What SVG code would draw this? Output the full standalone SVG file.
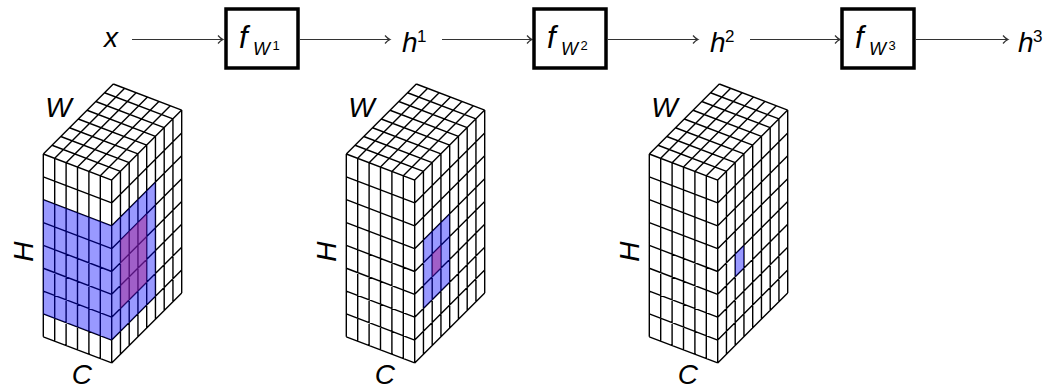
<svg xmlns="http://www.w3.org/2000/svg" xmlns:xlink="http://www.w3.org/1999/xlink" width="1050" height="390" viewBox="0 0 1050 390">
<style>
.lbl{font-family:"Liberation Sans",Arial,Helvetica,sans-serif;font-style:italic;font-size:28px;fill:#000}
.fn{font-size:31px}
.sub{font-size:18px}
.sup{font-size:13px;font-style:normal}
.sup2{font-size:17px;font-style:normal}
.box{fill:#fff;stroke:#000;stroke-width:3.5}
.arr{fill:none;stroke:#333;stroke-width:1.2;marker-end:url(#to)}
.grid{fill:none;stroke:#000;stroke-width:1.4;stroke-linejoin:round}
.face{fill:#fff;stroke:none}
.blue{fill:#0000ff;fill-opacity:0.4}
.purple{fill:#a72591;fill-opacity:0.5}
</style>
<defs>
<marker id="to" markerUnits="userSpaceOnUse" markerWidth="10" markerHeight="10" refX="0" refY="0" orient="auto" overflow="visible">
<path d="M-5,-4 C-3,-1.6 -1,-0.4 0,0 C-1,0.4 -3,1.6 -5,4" fill="none" stroke="#333" stroke-width="1.2"/>
</marker>
<g id="cube">
<polygon class="face" points="0,0 70,-70 138.4,-43.9 138.4,138.9 68.4,208.9 0,182.8"/>
<path class="grid" d="M0,0v182.8 M11.4,4.35v182.8 M22.8,8.7v182.8 M34.2,13.05v182.8 M45.6,17.4v182.8 M57,21.75v182.8 M68.4,26.1v182.8
M0,0l68.4,26.1 M0,22.85l68.4,26.1 M0,45.7l68.4,26.1 M0,68.55l68.4,26.1 M0,91.4l68.4,26.1 M0,114.25l68.4,26.1 M0,137.1l68.4,26.1 M0,159.95l68.4,26.1 M0,182.8l68.4,26.1
M77.15,17.35v182.8 M85.9,8.6v182.8 M94.65,-0.15v182.8 M103.4,-8.9v182.8 M112.15,-17.65v182.8 M120.9,-26.4v182.8 M129.65,-35.15v182.8 M138.4,-43.9v182.8
M68.4,26.1l70,-70 M68.4,48.95l70,-70 M68.4,71.8l70,-70 M68.4,94.65l70,-70 M68.4,117.5l70,-70 M68.4,140.35l70,-70 M68.4,163.2l70,-70 M68.4,186.05l70,-70 M68.4,208.9l70,-70
M8.75,-8.75l68.4,26.1 M17.5,-17.5l68.4,26.1 M26.25,-26.25l68.4,26.1 M35,-35l68.4,26.1 M43.75,-43.75l68.4,26.1 M52.5,-52.5l68.4,26.1 M61.25,-61.25l68.4,26.1 M70,-70l68.4,26.1
M0,0l70,-70 M11.4,4.35l70,-70 M22.8,8.7l70,-70 M34.2,13.05l70,-70 M45.6,17.4l70,-70 M57,21.75l70,-70"/>
</g>
</defs>
<rect width="1050" height="390" fill="#fff"/>

<g id="connectors">
<line class="arr" x1="132" y1="39.5" x2="223" y2="39.5"/>
<line class="arr" x1="300" y1="39.5" x2="390" y2="39.5"/>
<line class="arr" x1="442" y1="39.5" x2="532" y2="39.5"/>
<line class="arr" x1="608" y1="39.5" x2="698" y2="39.5"/>
<line class="arr" x1="750" y1="39.5" x2="840" y2="39.5"/>
<line class="arr" x1="916" y1="39.5" x2="1008" y2="39.5"/>
</g>

<g id="node-x"><text class="lbl" x="104" y="47">x</text></g>
<g id="node-f1">
<rect class="box" x="226" y="9" width="72" height="59"/>
<text class="lbl fn" x="239" y="48">f</text><text class="lbl sub" x="253" y="55">W</text><text class="lbl sup" x="272.5" y="50">1</text>
</g>
<g id="node-h1"><text class="lbl" x="402" y="51.5">h</text><text class="lbl sup2" x="417" y="42">1</text></g>
<g id="node-f2">
<rect class="box" x="534" y="9" width="72" height="59"/>
<text class="lbl fn" x="547" y="48">f</text><text class="lbl sub" x="561" y="55">W</text><text class="lbl sup" x="580.5" y="50">2</text>
</g>
<g id="node-h2"><text class="lbl" x="710" y="51.5">h</text><text class="lbl sup2" x="725" y="42">2</text></g>
<g id="node-f3">
<rect class="box" x="842" y="9" width="72" height="59"/>
<text class="lbl fn" x="855" y="48">f</text><text class="lbl sub" x="869" y="55">W</text><text class="lbl sup" x="888.5" y="50">3</text>
</g>
<g id="node-h3"><text class="lbl" x="1018" y="51.5">h</text><text class="lbl sup2" x="1033" y="42">3</text></g>

<g id="cube-x" transform="translate(43.3,154)">
<use xlink:href="#cube" href="#cube"/>
<polygon class="blue" points="0,45.7 68.4,71.8 112.15,28.05 112.15,142.3 68.4,186.05 0,159.95"/>
<polygon class="purple" points="77.15,85.9 103.4,59.65 103.4,128.2 77.15,154.45"/>
<text class="lbl" x="2" y="-37.3">W</text>
<text class="lbl" transform="translate(-10,107.7) rotate(-90)">H</text>
<text class="lbl" x="28.4" y="229.5">C</text>
</g>

<g id="cube-h1" transform="translate(346.3,154)">
<use xlink:href="#cube" href="#cube"/>
<polygon class="blue" points="77.15,85.9 103.4,59.65 103.4,128.2 77.15,154.45"/>
<polygon class="purple" points="85.9,100 94.65,91.25 94.65,114.1 85.9,122.85"/>
<text class="lbl" x="2" y="-37.3">W</text>
<text class="lbl" transform="translate(-10,107.7) rotate(-90)">H</text>
<text class="lbl" x="28.4" y="229.5">C</text>
</g>

<g id="cube-h2" transform="translate(649.3,154)">
<use xlink:href="#cube" href="#cube"/>
<polygon class="blue" points="85.9,100 94.65,91.25 94.65,114.1 85.9,122.85"/>
<text class="lbl" x="2" y="-37.3">W</text>
<text class="lbl" transform="translate(-10,107.7) rotate(-90)">H</text>
<text class="lbl" x="28.4" y="229.5">C</text>
</g>
</svg>
